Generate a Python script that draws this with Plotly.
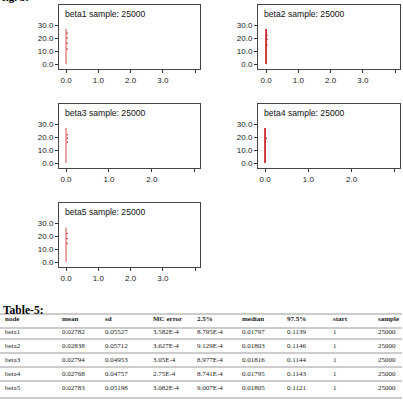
import plotly.graph_objects as go

W, H = 403, 406

# ---- density panels data ----
panel_names = ["beta1", "beta2", "beta3", "beta4", "beta5"]
sample_sizes = [25000, 25000, 25000, 25000, 25000]
line_x = [[0.0, 0.0], [0.0, 0.0], [0.0, 0.0], [0.0, 0.0], [0.0, 0.0]]
line_y = [[0.0, 27.0], [0.0, 27.0], [0.0, 27.0], [0.0, 27.0], [0.0, 26.5]]
dot_x = [[0.03, 0.03, 0.03, 0.03], [0.03, 0.03, 0.03], [0.03, 0.03, 0.03], [0.03], [0.03, 0.03, 0.03]]
dot_y = [[23.8, 20.0, 16.0, 11.5], [22.0, 19.0, 14.6], [21.8, 19.0, 16.0], [19.0], [21.9, 18.0, 14.3]]
x_tickvals = [[0, 1, 2, 3, 4], [0, 1, 2, 3, 4], [0, 1, 2, 3], [0, 1, 2, 3], [0, 1, 2, 3, 4]]
x_ticktext = [["0.0", "1.0", "2.0", "3.0", ""], ["0.0", "1.0", "2.0", "3.0", ""],
              ["0.0", "1.0", "2.0", ""], ["0.0", "1.0", "2.0", ""],
              ["0.0", "1.0", "2.0", "3.0", ""]]
y_tickvals = [0, 10, 20, 30]
y_ticktext = ["0.0", "10.0", "20.0", "30.0"]

# ---- table data ----
table_title = "Table-5:"
columns = ["node", "mean", "sd", "MC error", "2.5%", "median", "97.5%", "start", "sample"]
nodes = ["beta1", "beta2", "beta3", "beta4", "beta5"]
means = ["0.02782", "0.02838", "0.02794", "0.02768", "0.02783"]
sds = ["0.05527", "0.05712", "0.04953", "0.04757", "0.05198"]
mc_errors = ["3.582E-4", "3.627E-4", "3.05E-4", "2.75E-4", "3.082E-4"]
p2_5 = ["8.795E-4", "9.129E-4", "8.977E-4", "8.741E-4", "9.007E-4"]
medians = ["0.01797", "0.01803", "0.01816", "0.01795", "0.01805"]
p97_5 = ["0.1139", "0.1146", "0.1144", "0.1143", "0.1121"]
starts = ["1", "1", "1", "1", "1"]
samples = ["25000", "25000", "25000", "25000", "25000"]

# ---- layout geometry (pixels) ----
panel_boxes = [(59, 200, 5, 69), (258, 400, 5, 69),
               (59, 200, 104, 168), (258, 400, 104, 168),
               (59, 200, 203, 267)]
x_ranges = [[-0.22, 4.15], [-0.25, 4.15], [-0.163, 3.12], [-0.163, 3.12], [-0.22, 4.15]]
y_range = [-3.8, 45.4]
line_colors = ["#eb9a9a", "#cc2a2a", "#eb9a9a", "#cc2a2a", "#eb9a9a"]
dot_color = "#b8304a"

col_x = [3, 60, 103, 151, 195, 240, 285, 331, 376]
header_y = 319
row_y0, row_dy = 332, 14
rule_y = [314, 328, 339, 353, 367, 381, 398]


def px(x):
    return x / W


def py(y):
    return 1 - y / H


fig = go.Figure()
annotations = []
shapes = []
axis_font = dict(family="Liberation Sans, Arial, sans-serif", size=8, color="#222")

for i, name in enumerate(panel_names):
    n = i + 1
    xa = "x" if n == 1 else f"x{n}"
    ya = "y" if n == 1 else f"y{n}"
    x0, x1, y0, y1 = panel_boxes[i]
    fig.add_trace(go.Scatter(x=line_x[i], y=line_y[i], mode="lines",
                             line=dict(color=line_colors[i], width=1.8),
                             xaxis=xa, yaxis=ya, showlegend=False, hoverinfo="skip"))
    fig.add_trace(go.Scatter(x=dot_x[i], y=dot_y[i], mode="markers",
                             marker=dict(color=dot_color, size=1.6),
                             xaxis=xa, yaxis=ya, showlegend=False, hoverinfo="skip"))
    xkey = "xaxis" if n == 1 else f"xaxis{n}"
    ykey = "yaxis" if n == 1 else f"yaxis{n}"
    fig.layout[xkey] = dict(domain=[px(x0), px(x1)], anchor=ya, range=x_ranges[i],
                            tickvals=x_tickvals[i], ticktext=x_ticktext[i],
                            ticks="outside", ticklen=3, tickcolor="#333",
                            showline=True, mirror=True, linecolor="#444", linewidth=1,
                            showgrid=False, zeroline=False, tickfont=axis_font, fixedrange=True)
    fig.layout[ykey] = dict(domain=[py(y1), py(y0)], anchor=xa, range=y_range,
                            tickvals=y_tickvals, ticktext=y_ticktext,
                            ticks="outside", ticklen=3, tickcolor="#333",
                            showline=True, mirror=True, linecolor="#444", linewidth=1,
                            showgrid=False, zeroline=False, tickfont=axis_font, fixedrange=True)
    annotations.append(dict(text=f"{name} sample: {sample_sizes[i]}", xref="paper", yref="paper",
                            x=px(x0 + 4), y=py(y0 + 1.5), xanchor="left", yanchor="top",
                            showarrow=False,
                            font=dict(family="Liberation Sans, Arial, sans-serif", size=8.6, color="#111")))

# partially visible figure caption at the very top (cut off in the reference too)
annotations.append(dict(text="<b>fig. 5:</b>", xref="paper", yref="paper", x=px(0), y=py(5),
                        xanchor="left", yanchor="bottom", showarrow=False,
                        font=dict(family="Liberation Serif, Times New Roman, serif", size=11, color="#000")))

# table
annotations.append(dict(text=f"<b>{table_title}</b>", xref="paper", yref="paper", x=px(1), y=py(309.5),
                        xanchor="left", yanchor="middle", showarrow=False,
                        font=dict(family="Liberation Serif, Times New Roman, serif", size=11.5, color="#000")))
serif_small = dict(family="Liberation Serif, Times New Roman, serif", size=7, color="#222")
for c, col in enumerate(columns):
    annotations.append(dict(text=f"<b>{col}</b>", xref="paper", yref="paper", x=px(col_x[c]), y=py(header_y),
                            xanchor="left", yanchor="middle", showarrow=False, font=serif_small))
table_cols = [nodes, means, sds, mc_errors, p2_5, medians, p97_5, starts, samples]
for c, vals in enumerate(table_cols):
    for r, v in enumerate(vals):
        annotations.append(dict(text=v, xref="paper", yref="paper", x=px(col_x[c]), y=py(row_y0 + r * row_dy),
                                xanchor="left", yanchor="middle", showarrow=False, font=serif_small))
for ry in rule_y:
    shapes.append(dict(type="line", xref="paper", yref="paper", x0=px(0), x1=px(402), y0=py(ry), y1=py(ry),
                       line=dict(color="#9a9a9a", width=1)))

fig.update_layout(width=W, height=H, margin=dict(l=0, r=0, t=0, b=0),
                  paper_bgcolor="white", plot_bgcolor="white",
                  annotations=annotations, shapes=shapes, showlegend=False)

fig.write_html("out.html", config={"displayModeBar": False})
